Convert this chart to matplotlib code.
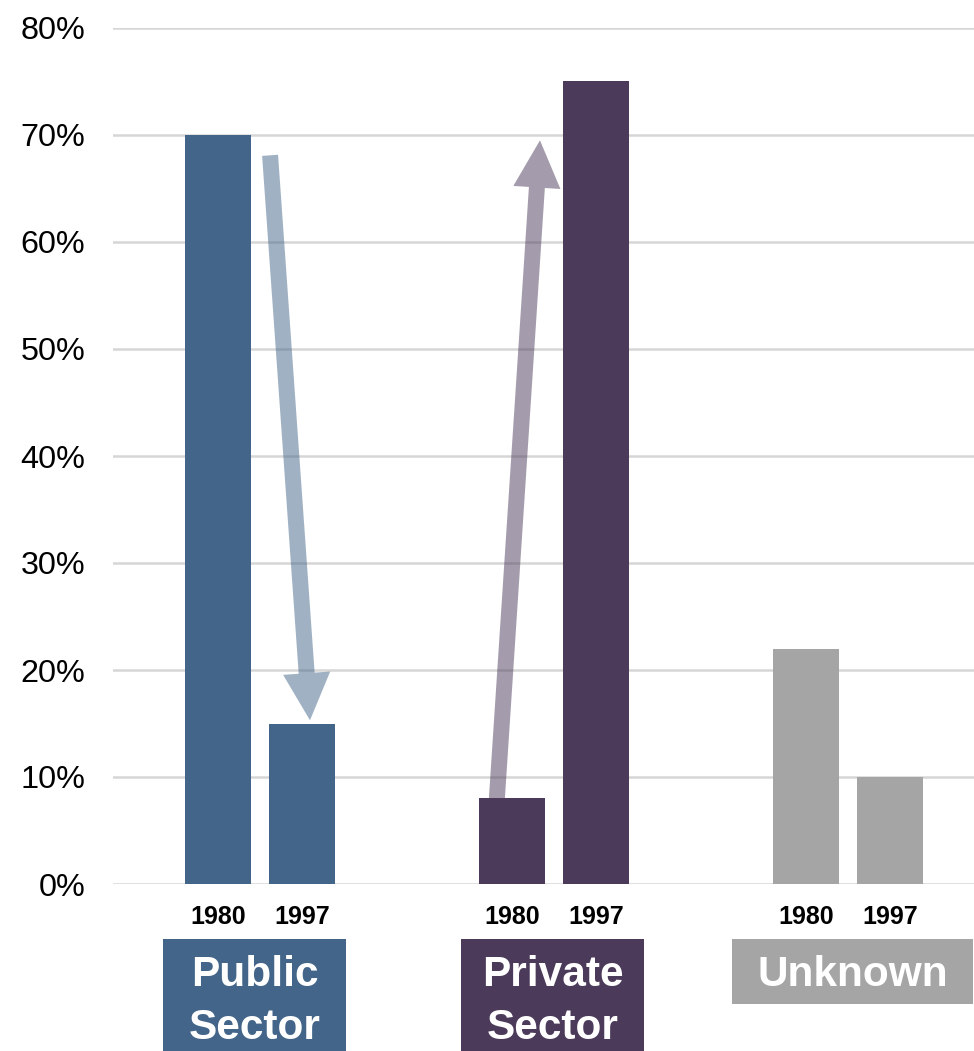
import matplotlib
matplotlib.use("Agg")
import matplotlib.pyplot as plt
from matplotlib.patches import FancyArrowPatch, Rectangle, ArrowStyle
from matplotlib.transforms import blended_transform_factory

plt.rcParams['font.family'] = ['Liberation Sans', 'DejaVu Sans']

# ---- data ----
categories = ["Public Sector", "Private Sector", "Unknown"]
years = ["1980", "1997"]
values_1980 = [70, 8, 22]
values_1997 = [15, 75, 10]
colors = ["#426589", "#4B3A5A", "#A5A5A5"]
yticks = [0, 10, 20, 30, 40, 50, 60, 70, 80]

W, H = 974, 1051
fig = plt.figure(figsize=(W / 100, H / 100), dpi=100)
ax_l, ax_r, ax_b, ax_t = 113, 974, 884, 28
ax = fig.add_axes([ax_l / W, (H - ax_b) / H, (ax_r - ax_l) / W, (ax_b - ax_t) / H])

group_pos = [0.0, 3.5, 7.0]
bw = 66 / 84
for i, cat in enumerate(categories):
    x0 = group_pos[i]
    ax.bar([x0, x0 + 1], [values_1980[i], values_1997[i]], width=bw,
           color=colors[i], zorder=3)

ax.set_xlim(-1.25, 9.0)
ax.set_ylim(0, 80)
ax.set_yticks(yticks)
ax.set_yticklabels([f"{v}%" for v in yticks], fontsize=23.3)
ax.tick_params(axis='y', length=0, pad=20)
ax.set_xticks([])
for s in ax.spines.values():
    s.set_visible(False)
ax.yaxis.grid(True, color="#D6D6D6", lw=1.8, zorder=0)
ax.set_axisbelow(True)

# year labels
tr = blended_transform_factory(ax.transData, ax.transAxes)
yl = -(916.5 - ax_b) / (ax_b - ax_t)
for i in range(len(categories)):
    for j, yr in enumerate(years):
        ax.text(group_pos[i] + j, yl, yr, transform=tr, ha='center', va='center',
                fontsize=18, fontweight='bold', color='black')

# arrows (annotations showing change)
style = ArrowStyle("simple", head_length=34, head_width=34, tail_width=11.5)
a1 = FancyArrowPatch((group_pos[0] + 0.62, values_1980[0] - 1.9),
                     (group_pos[0] + 1.095, values_1997[0] + 0.3),
                     arrowstyle=style, mutation_scale=1, color=colors[0],
                     alpha=0.5, lw=0, shrinkA=0, shrinkB=0, zorder=4)
ax.add_patch(a1)
a2 = FancyArrowPatch((group_pos[1] - 0.18, values_1980[1]),
                     (group_pos[1] + 0.333, 69.5),
                     arrowstyle=style, mutation_scale=1, color=colors[1],
                     alpha=0.5, lw=0, shrinkA=0, shrinkB=0, zorder=2.5)
ax.add_patch(a2)

# category label boxes (pixel coords -> figure fraction)
boxes = [(163, 346, 939, 1051), (461, 644, 939, 1051), (732, 973, 939, 1004)]
for i, cat in enumerate(categories):
    x1, x2, y1, y2 = boxes[i]
    fig.patches.append(Rectangle((x1 / W, (H - y2) / H), (x2 - x1) / W, (y2 - y1) / H,
                                 transform=fig.transFigure, facecolor=colors[i],
                                 edgecolor='none', zorder=1))
    words = cat.split(" ")
    cx = (x1 + x2) / 2 / W
    if len(words) == 2:
        ys = [974.5, 1028]
    else:
        ys = [975]
    for w, yy in zip(words, ys):
        fig.text(cx, (H - yy) / H, w, ha='center', va='center', fontsize=30.5,
                 fontweight='bold', color='white', zorder=2)

fig.savefig("out.png", dpi=100)
